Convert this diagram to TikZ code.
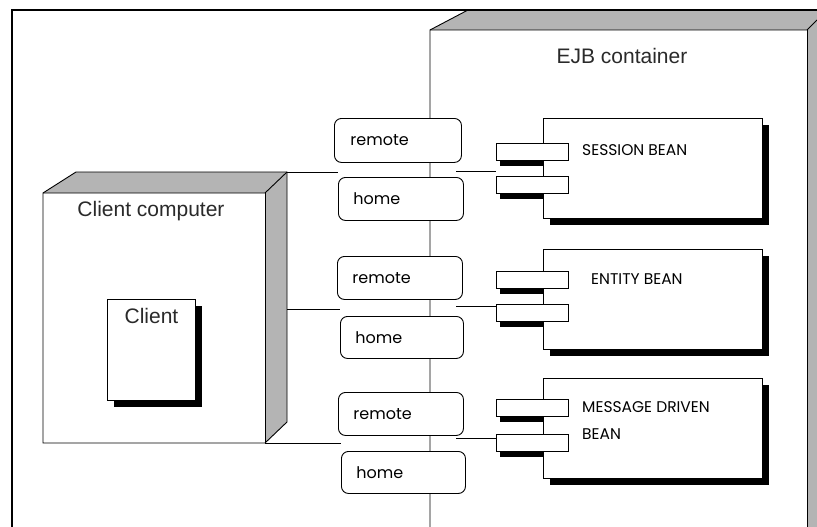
\documentclass[tikz,border=0pt]{standalone}
\usepackage{fontspec}
\setmainfont{Liberation Sans}
\newfontfamily\gothic{Poppins}

\definecolor{facegray}{HTML}{B4B4B4}
\definecolor{headgray}{HTML}{2A2A2A}

\tikzset{
  edge/.style={draw=black, line width=0.9pt},
  heading/.style={font=\fontsize{21}{25}\selectfont, text=headgray, inner sep=0pt},
  iface/.style={draw=black, line width=0.9pt, fill=white, rounded corners=7pt,
    anchor=north west, inner xsep=15pt, inner ysep=0pt, align=left,
    font=\gothic\fontsize{16}{19}\selectfont},
  boxed/.style={draw=black, line width=0.9pt, fill=white, anchor=north west, inner sep=0pt},
  beanbox/.style={boxed, minimum width=219pt, minimum height=100pt},
  port/.style={boxed, minimum width=72pt, minimum height=17pt},
  beanlabel/.style={anchor=west, inner sep=0pt, font=\gothic\fontsize{15.5}{19}\selectfont},
  clientbox/.style={boxed, minimum width=88pt, minimum height=101pt},
  solidshadow/.style={fill=black, draw=none}
}

\begin{document}
\begin{tikzpicture}[x=1pt, y=-1pt]
\useasboundingbox (0,0) rectangle (817,527);
\fill[white] (0,0) rectangle (817,527);

% ---- EJB container (3D node) ----
\fill[facegray] (430,30) -- (468,10) -- (817,10) -- (817,527) -- (807,527) -- (807,30) -- cycle;
\draw[edge] (430,527) -- (430,30) -- (468,10);
\draw[edge] (430,30) -- (807,30) -- (817,20);
\draw[edge] (807,30) -- (807,527);
\node[heading] (ejbtitle) at (622,56) {EJB container};

% ---- Client computer (3D node) ----
\fill[white] (43,193) rectangle (265,443);
\fill[facegray] (43,193) -- (76,172) -- (287,172) -- (265,193) -- cycle;
\fill[facegray] (265,193) -- (287,172) -- (287,422) -- (265,443) -- cycle;
\draw[edge] (43,443) -- (43,193) -- (76,172) -- (287,172) -- (287,422) -- (265,443) -- cycle;
\draw[edge] (43,193) -- (265,193) -- (287,172);
\draw[edge] (265,193) -- (265,443);
\node[heading] (cctitle) at (151,211) {Client computer};
\path[solidshadow] (114,306) rectangle (202,407);
\node[clientbox] (client) at (107,299) {};
\node[heading, anchor=north] (clienttitle) at ([yshift=-9pt]client.north) {Client};

\coordinate (ccA) at (287,172);
\coordinate (ccB) at (287,309);
\coordinate (ccC) at (265,443.5);

% ---- interfaces on the container edge ----
\node[iface, minimum width=127pt, minimum height=44pt, text width=95pt] (r1) at (334,118) {remote};
\node[iface, minimum width=125pt, minimum height=43pt, text width=95pt] (h1) at (338,177) {home};
\node[iface, minimum width=125pt, minimum height=43pt, text width=95pt] (r2) at (337,256) {remote};
\node[iface, minimum width=123pt, minimum height=42pt, text width=93pt] (h2) at (340,316) {home};
\node[iface, minimum width=125pt, minimum height=43pt, text width=95pt] (r3) at (338,392) {remote};
\node[iface, minimum width=124pt, minimum height=42pt, text width=94pt] (h3) at (341,451) {home};

% client computer to the interfaces
\draw[edge] (ccA) -- (ccA -| h1.west);
\draw[edge] (ccB) -- (ccB -| h2.west);
\draw[edge] (ccC) -- (ccC -| h3.west);

% ---- bean bodies with their shadows ----
\path[solidshadow] (550,125) rectangle (769,225);
\path[solidshadow] (550,256) rectangle (769,356);
\path[solidshadow] (550,385) rectangle (769,485);
\node[beanbox] (sb) at (543,118) {};
\node[beanbox] (eb) at (543,249) {};
\node[beanbox] (mb) at (543,378) {};

% ---- ports: shadow strips first, then the port boxes ----
\path[solidshadow] (500,159) rectangle (543,166);
\path[solidshadow] (500,192) rectangle (543,199);
\path[solidshadow] (500,287) rectangle (543,294);
\path[solidshadow] (500,320) rectangle (543,327);
\path[solidshadow] (500,415) rectangle (543,422);
\path[solidshadow] (500,450) rectangle (543,457);

\node[port] (sbp1) at (496,143) {};
\node[port] (sbp2) at (496,176) {};
\node[port] (ebp1) at (496,271) {};
\node[port] (ebp2) at (496,304) {};
\node[port] (mbp1) at (496,399) {};
\node[port] (mbp2) at (496,434) {};

\coordinate (sbc) at (456,171);
\coordinate (ebc) at (456,306);
\coordinate (mbc) at (456,438);
\draw[edge] (sbc) -- (sbc -| sbp2.west);
\draw[edge] (ebc) -- (ebc -| ebp2.west);
\draw[edge] (mbc) -- (mbc -| mbp2.west);

\node[beanlabel] (sblabel) at (582,150) {SESSION BEAN};
\node[beanlabel] (eblabel) at (591,279) {ENTITY BEAN};
\node[beanlabel] (mblabel1) at (582,407) {MESSAGE DRIVEN};
\node[beanlabel] (mblabel2) at (582,434) {BEAN};

% ---- outer frame ----
\draw[line width=2.6pt] (12,527) -- (12,10) -- (817,10);
\end{tikzpicture}
\end{document}
